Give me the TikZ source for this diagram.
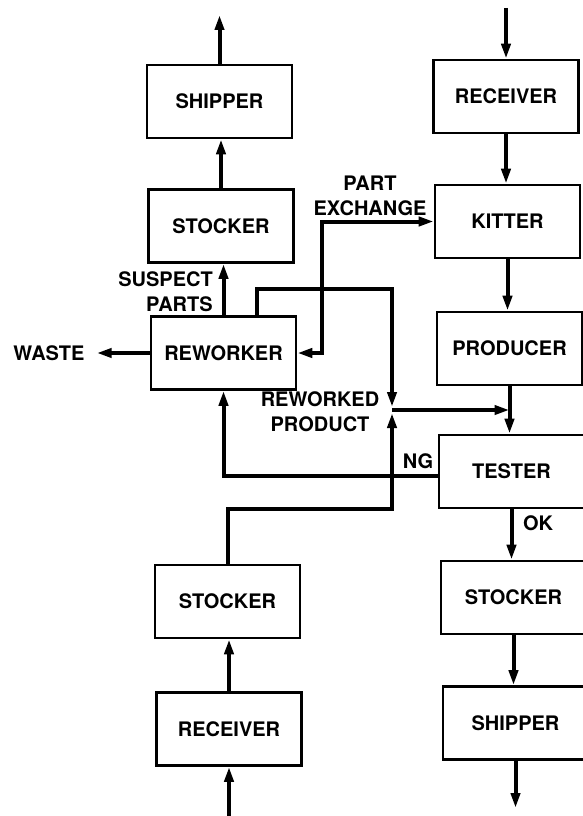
\documentclass[tikz,border=0pt]{standalone}
\usepackage{fontspec}
\setmainfont{TeX Gyre Heros}
\usetikzlibrary{arrows.meta, positioning}
\tikzset{
	stationnode/.style={
			draw=black,
			line width=2.6pt,
			minimum width=145pt,
			minimum height=73pt,
			inner sep=0pt,
			font=\bfseries\fontsize{20}{25}\selectfont
		},
	labelnode/.style={
			inner sep=0pt,
			font=\bfseries\fontsize{20}{25}\selectfont
		},
	flowline/.style={
			line width=4pt,
			>={Triangle[length=15pt,width=9pt]}
		}
}

\begin{document}
\begin{tikzpicture}[x=1pt, y=-1pt]
\useasboundingbox (0,0) rectangle (582,816);

\node[stationnode] (tShipA) at (219.5,101.5) {SHIPPER};
\node[stationnode] (tStockA) at (221,226) {STOCKER};
\node[stationnode] (tRework) at (223.5,353) {REWORKER};
\node[stationnode] (tStockC) at (227.5,601.5) {STOCKER};
\node[stationnode] (tRecvC) at (229,729) {RECEIVER};
\node[stationnode] (tRecvB) at (506,96.5) {RECEIVER};
\node[stationnode] (tKit) at (507.5,221.5) {KITTER};
\node[stationnode] (tProd) at (509.5,348.5) {PRODUCER};
\node[stationnode] (tTest) at (511.5,471.5) {TESTER};
\node[stationnode] (tStockB) at (513.5,597.5) {STOCKER};
\node[stationnode] (tShipB) at (515.5,723) {SHIPPER};

\node[labelnode, inner xsep=12pt] (tWaste) at (49,353) {WASTE};
\node[labelnode, align=right, anchor=east] (tSuspect) at (213,292) {SUSPECT\\PARTS};
\node[labelnode, align=center] (tExch) at (370,196) {PART\\EXCHANGE};
\node[labelnode, align=center] (tRwProd) at (320,412) {REWORKED\\PRODUCT};
\node[labelnode] (tNG) at (418,461) {NG};
\node[labelnode] (tOK) at (538,523) {OK};

\coordinate (oShipA) at (219.5,15);
\coordinate (iRecvB) at (506,8);
\coordinate (oShipB) at (515.5,808);
\coordinate (iRecvC) at (229,816);
\coordinate (cRwOut) at (257,289);
\coordinate (cPX) at (322,221.5);
\coordinate (cJoin) at (392,410);
\coordinate (cLow) at (392,509);
\coordinate (cNG) at (tTest.west |- 0,476);

\draw[flowline, ->] (tShipA.north) -- (oShipA);
\draw[flowline, ->] (tStockA.north) -- (tStockA.north |- tShipA.south);
\draw[flowline, ->] (tRework.north) -- (tRework.north |- tStockA.south);
\draw[flowline, ->] (tRework.west) -- (tWaste.east);
\draw[flowline, <->] (tRework.east) -| (cPX) -- (tKit.west);
\draw[flowline, ->, shorten >=3pt] (tRework.north -| cRwOut) -- (cRwOut) -| (cJoin);
\draw[flowline, ->, shorten >=3pt] (tStockC.north) |- (cLow) -- (cJoin);
\draw[flowline, ->] (cJoin) -- (cJoin -| tProd.south);
\draw[flowline, ->] (cNG) -| (tRework.south);

\draw[flowline, ->] (iRecvB) -- (tRecvB.north);
\draw[flowline, ->] (tRecvB.south) -- (tRecvB.south |- tKit.north);
\draw[flowline, ->] (tKit.south) -- (tKit.south |- tProd.north);
\draw[flowline, ->] (tProd.south) -- (tProd.south |- tTest.north);
\draw[flowline, ->] (tTest.south) -- (tTest.south |- tStockB.north);
\draw[flowline, ->] (tStockB.south) -- (tStockB.south |- tShipB.north);
\draw[flowline, ->] (tShipB.south) -- (oShipB);

\draw[flowline, ->] (iRecvC) -- (tRecvC.south);
\draw[flowline, ->] (tRecvC.north) -- (tRecvC.north |- tStockC.south);
\end{tikzpicture}
\end{document}
